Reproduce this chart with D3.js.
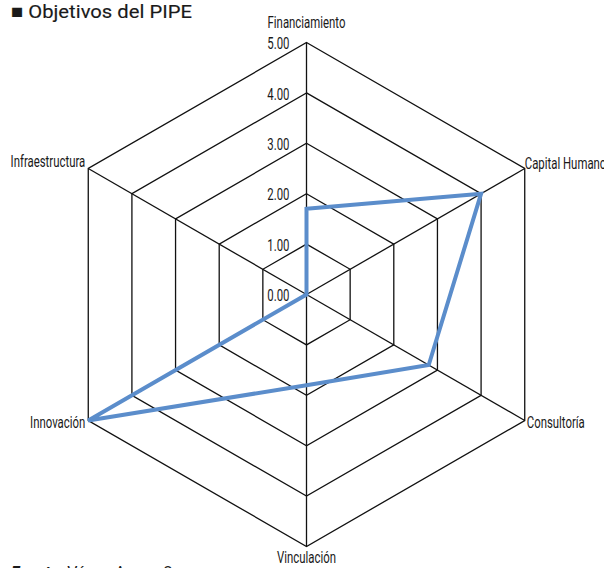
<!DOCTYPE html>
<html>
<head>
<meta charset="utf-8">
<script src="https://cdn.jsdelivr.net/npm/d3@7"></script>
<style>
  html, body { margin: 0; padding: 0; background: #fff; }
  svg { display: block; }
  .lbl { font-family: "Roboto", "Noto Sans", sans-serif; font-size: 16px; fill: #1a1a1a; }
  .title { font-family: "Roboto", "Noto Sans", sans-serif; font-size: 19px; font-weight: 400; fill: #1a1a1a; stroke: #1a1a1a; stroke-width: 0.15px; }
  .src { font-family: "Roboto", "Noto Sans", sans-serif; font-size: 16px; fill: #1a1a1a; }
</style>
</head>
<body>
<script>
// Objectives of the programme, scored 0–5
const categories = ["Financiamiento", "Capital Humano", "Consultoría", "Vinculación", "Innovación", "Infraestructura"];
const values = [1.7, 4.0, 2.8, 1.8, 5.0, 0.0];
const tickValues = [0, 1, 2, 3, 4, 5];
const tickLabels = ["0.00", "1.00", "2.00", "3.00", "4.00", "5.00"];

const W = 604, H = 568;
const cx = 306.5, cy = 294.5;

const svg = d3.select("body").append("svg").attr("width", W).attr("height", H);

const r = d3.scaleLinear().domain([0, 5]).range([0, 252]);
const angle = d3.scalePoint().domain(categories).range([0, 2 * Math.PI * (categories.length - 1) / categories.length]);

const pt = (cat, v) => {
  const a = angle(cat);
  return [cx + r(v) * Math.sin(a), cy - r(v) * Math.cos(a)];
};

const g = svg.append("g");

// hexagonal rings
tickValues.filter(t => t > 0).forEach(t => {
  g.append("path")
    .attr("d", d3.line()(categories.map(c => pt(c, t))) + "Z")
    .attr("fill", "none").attr("stroke", "#111").attr("stroke-width", 1.3);
});

// spokes
categories.forEach(c => {
  const [x, y] = pt(c, 5);
  g.append("line").attr("x1", cx).attr("y1", cy).attr("x2", x).attr("y2", y)
    .attr("stroke", "#111").attr("stroke-width", 1.3);
});

// condensed look: labels are squeezed horizontally by a common factor
const probe = svg.append("text").attr("class", "lbl").text("Financiamiento");
const squeeze = 78 / probe.node().getComputedTextLength();
probe.remove();

function label(x, y, txt, anchor) {
  return g.append("g").attr("transform", `translate(${x},${y}) scale(${squeeze},1)`)
    .append("text").attr("class", "lbl")
    .attr("text-anchor", anchor)
    .attr("dy", "0.36em")
    .text(txt);
}

// tick labels along the top spoke
tickValues.forEach((d, i) => label(cx - 17, cy - r(d) + 1, tickLabels[i], "end"));

// data polygon
const dataPts = categories.map((c, i) => pt(c, values[i]));
g.append("path")
  .attr("d", d3.line()(dataPts) + "Z")
  .attr("fill", "none").attr("stroke", "#5b8dcb").attr("stroke-width", 4)
  .attr("stroke-linejoin", "miter");

// category labels
const labelPos = {
  "Financiamiento": { dx: 0, dy: -20, anchor: "middle" },
  "Capital Humano": { dx: 0, dy: -5.5, anchor: "start" },
  "Consultoría": { dx: 2, dy: 2, anchor: "start" },
  "Vinculación": { dx: 0, dy: 11, anchor: "middle" },
  "Innovación": { dx: -3, dy: 2, anchor: "end" },
  "Infraestructura": { dx: -3, dy: -7, anchor: "end" }
};
categories.forEach(c => {
  const [x, y] = pt(c, 5);
  const p = labelPos[c];
  label(x + p.dx, y + p.dy, c, p.anchor);
});

// title, widened to its full span
const title = svg.append("text").attr("class", "title").attr("x", 0).attr("y", 0)
  .text("\u25A0 Objetivos del PIPE");
const tw = title.node().getComputedTextLength();
title.attr("transform", `translate(11,18) scale(${181 / tw},1)`);

// source line
const src = svg.append("text").attr("class", "src").attr("x", 11).attr("y", 578);
src.append("tspan").attr("font-weight", "bold").attr("font-style", "italic").text("Fuente: ");
src.append("tspan").text("Véase Anexo 2");
</script>
</body>
</html>
